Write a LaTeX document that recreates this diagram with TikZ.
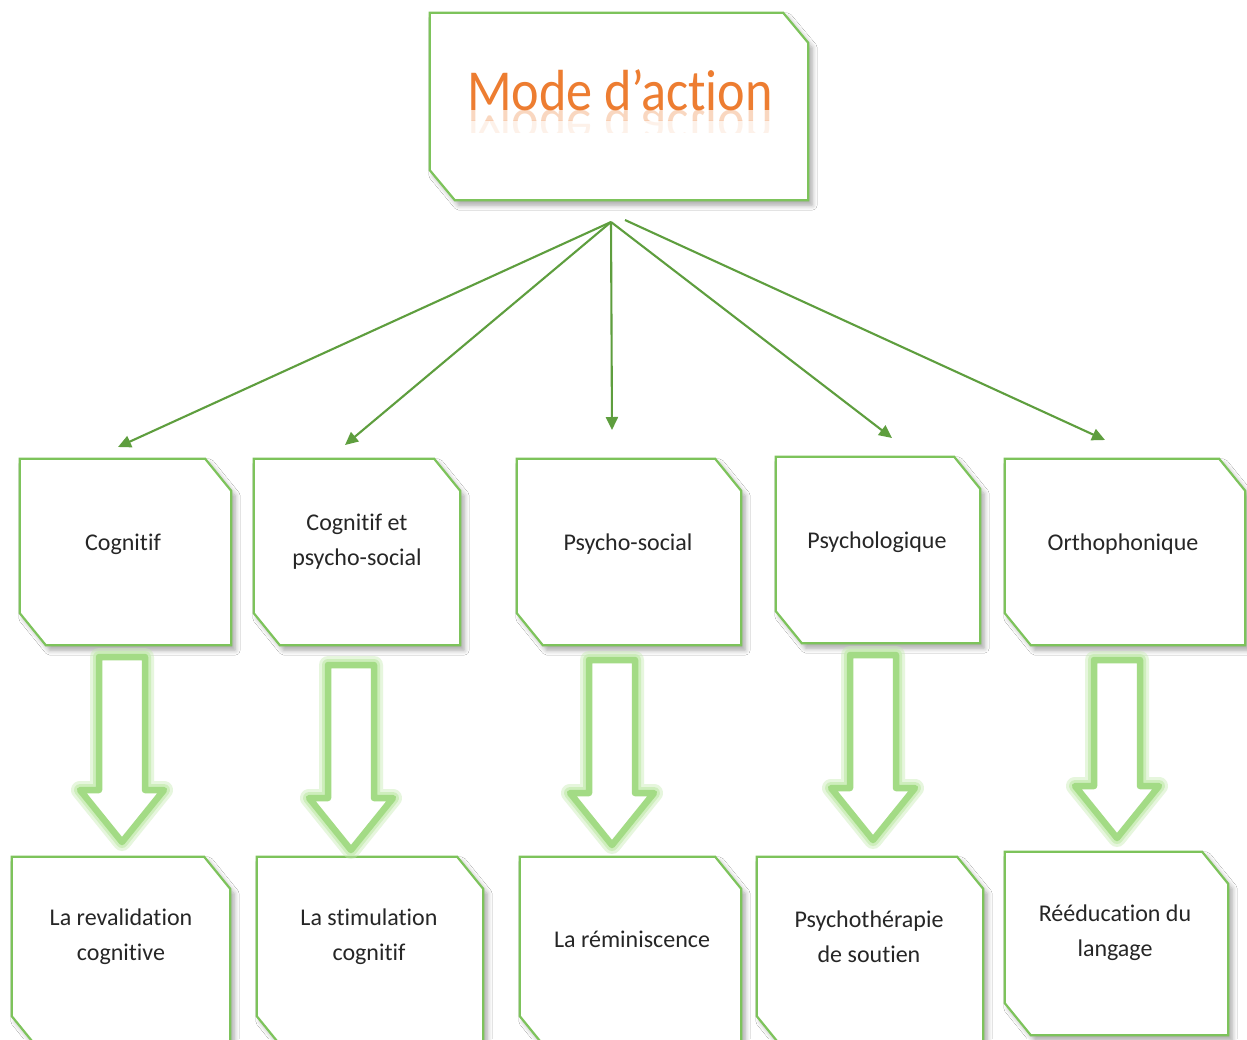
\documentclass[tikz,border=0pt]{standalone}
\usepackage{fontspec}
\setmainfont{Carlito}[Ligatures={NoCommon}]
\usetikzlibrary{arrows.meta,calc,shadows.blur}
\definecolor{boxgreen}{HTML}{7DC35B}
\definecolor{linegreen}{HTML}{5E9E3E}
\definecolor{blockgreen}{HTML}{A3DB85}
\definecolor{glowgreen}{HTML}{C8ECB4}
\definecolor{titleorange}{HTML}{ED7D31}
\definecolor{txt}{HTML}{262626}
\tikzset{
  frame/.style={inner sep=0pt, minimum width=#1},
  boxline/.style={draw=boxgreen, line width=2.2pt, fill=white, line join=miter,
    blur shadow={shadow blur steps=6, shadow xshift=4pt, shadow yshift=-5pt, shadow opacity=35, shadow blur radius=5pt}},
  lbl/.style={text=txt, align=center, font=\fontsize{24}{35}\selectfont},
  thin/.style={draw=linegreen, line width=2.1pt, -{Triangle[length=13pt,width=12pt]}},
  titlefont/.style={font=\fontsize{58}{60}\selectfont, text=titleorange, anchor=base, inner sep=0pt, xscale=0.9},
}
\newcommand\chbox[3]{%
  \draw[boxline] (#1.north west) -- ($(#1.north east)+(-#2,0)$) -- ($(#1.north east)+(0,#3)$) -- (#1.south east) -- ($(#1.south west)+(#2,0)$) -- ($(#1.south west)+(0,-#3)$) -- cycle;}
% block arrow: center x, top y, tip y
\newcommand\blockarrow[3]{%
  \foreach \lw/\col/\op in {18/glowgreen/0.45, 12/glowgreen/0.8, 6.5/blockgreen/1} {
    \draw[line width=\lw pt, draw=\col, draw opacity=\op, line join=round, fill=white]
      (#1-23,#2) -- (#1+23,#2) -- (#1+23,#3-52) -- (#1+42,#3-52) -- (#1,#3) -- (#1-42,#3-52) -- (#1-23,#3-52) -- cycle;}}
\begin{document}
\begin{tikzpicture}[x=1pt,y=-1pt]
\clip (0,0) rectangle (1247,1039);
\fill[white] (0,0) rectangle (1247,1039);
% box frames
\node[frame=378pt, minimum height=187pt] (top) at (619,106.5) {};
\node[frame=211pt, minimum height=186pt] (c1) at (125.5,552) {};
\node[frame=206pt, minimum height=186pt] (c2) at (357,552) {};
\node[frame=224pt, minimum height=186pt] (c3) at (629,552) {};
\node[frame=204pt, minimum height=186pt] (c4) at (878,550) {};
\node[frame=240pt, minimum height=186pt] (c5) at (1125,552) {};
\node[frame=218pt, minimum height=191pt] (b1) at (121,952.5) {};
\node[frame=226pt, minimum height=191pt] (b2) at (370,952.5) {};
\node[frame=221pt, minimum height=191pt] (b3) at (630.5,952.5) {};
\node[frame=226pt, minimum height=191pt] (b4) at (870,952.5) {};
\node[frame=223pt, minimum height=183pt] (b5) at (1116.5,943.5) {};
\chbox{top}{25}{30}
\foreach \n in {c1,c2,c3,c4,c5,b1,b2,b3,b4,b5} {\chbox{\n}{26}{32}}
% title
\node[titlefont] (title) at (620,110) {Mode d’action};
\begin{scope}
\clip (440,110) rectangle (800,120);
\node[titlefont, yscale=-1, opacity=0.3] (titlerefl) at (620,110) {Mode d’action};
\end{scope}
\begin{scope}
\clip (440,120) rectangle (800,132);
\node[titlefont, yscale=-1, opacity=0.1] (titlerefl2) at (620,110) {Mode d’action};
\end{scope}
% labels
\node[lbl] (t1) at (123,544) {Cognitif};
\node[lbl] (t2) at (357,542) {Cognitif et\\psycho-social};
\node[lbl] (t3) at (628,544) {Psycho-social};
\node[lbl] (t4) at (877,542) {Psychologique};
\node[lbl] (t5) at (1123,544) {Orthophonique};
\node[lbl] (u1) at (121,937) {La revalidation\\cognitive};
\node[lbl] (u2) at (369,937) {La stimulation\\cognitif};
\node[lbl] (u3) at (632,939) {La réminiscence};
\node[lbl] (u4) at (869,937) {Psychothérapie\\de soutien};
\node[lbl] (u5) at (1115,933) {Rééducation du\\langage};
% thin connectors
\coordinate (s) at (611,222);
\coordinate (s5) at (625,220);
\coordinate (e1) at (118,447);
\coordinate (e2) at (345,445);
\coordinate (e3) at (612,430);
\coordinate (e4) at (892,438);
\coordinate (e5) at (1105,440);
\draw[thin] (s) -- (e1);
\draw[thin] (s) -- (e2);
\draw[thin] (s) -- (e3);
\draw[thin] (s) -- (e4);
\draw[thin] (s5) -- (e5);
% block arrows
\blockarrow{122}{657}{842}
\blockarrow{351}{665}{850}
\blockarrow{612}{660}{845}
\blockarrow{873}{655}{840}
\blockarrow{1117}{660}{838}
\end{tikzpicture}
\end{document}
